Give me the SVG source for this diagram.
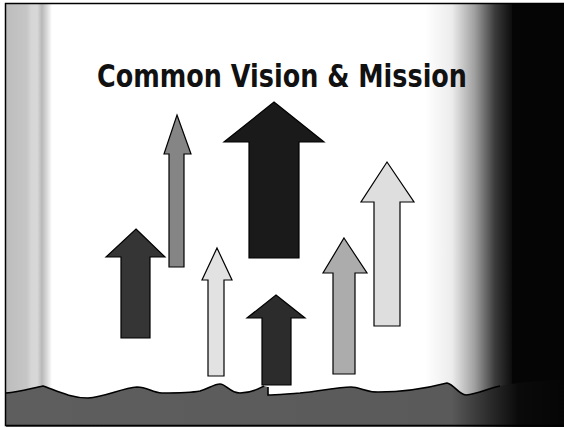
<svg xmlns="http://www.w3.org/2000/svg" width="564" height="427" viewBox="0 0 564 427">
  <defs>
    <linearGradient id="leftCurtain" x1="6" y1="0" x2="52" y2="0" gradientUnits="userSpaceOnUse">
      <stop offset="0" stop-color="#bdbdbd"/>
      <stop offset="0.45" stop-color="#c6c6c6"/>
      <stop offset="0.55" stop-color="#d6d6d6"/>
      <stop offset="0.68" stop-color="#d8d8d8"/>
      <stop offset="0.78" stop-color="#b8b8b8"/>
      <stop offset="0.9" stop-color="#dcdcdc"/>
      <stop offset="1" stop-color="#ffffff"/>
    </linearGradient>
    <linearGradient id="rightShade" x1="425" y1="0" x2="515" y2="0" gradientUnits="userSpaceOnUse">
      <stop offset="0" stop-color="#ffffff"/>
      <stop offset="0.3" stop-color="#ececec"/>
      <stop offset="0.55" stop-color="#a0a0a0"/>
      <stop offset="0.78" stop-color="#3a3a3a"/>
      <stop offset="1" stop-color="#050505"/>
    </linearGradient>
    <linearGradient id="groundShade" x1="0" y1="0" x2="564" y2="0" gradientUnits="userSpaceOnUse">
      <stop offset="0" stop-color="#5e5e5e"/>
      <stop offset="0.8" stop-color="#5a5a5a"/>
      <stop offset="0.87" stop-color="#2a2a2a"/>
      <stop offset="0.92" stop-color="#0a0a0a"/>
      <stop offset="1" stop-color="#050505"/>
    </linearGradient>
  </defs>
  <style>
    .arrow { stroke: #000; stroke-width: 1.2; stroke-linejoin: miter; }
    .title { font-family: "DejaVu Sans", Verdana, sans-serif; font-weight: bold; font-size: 32px; fill: #111; }
  </style>

  <!-- background -->
  <rect x="0" y="0" width="564" height="427" fill="#ffffff"/>
  <rect x="6" y="3" width="46" height="424" fill="url(#leftCurtain)"/>
  <rect x="425" y="3" width="139" height="424" fill="url(#rightShade)"/>
  <rect x="512" y="3" width="52" height="424" fill="#050505"/>

  <!-- ground -->
  <path d="M6,393 C20,392 32,388 43,386 C55,390 70,398 88,398 C105,397 122,388 137,387 C148,387 152,393 162,393 C175,393 195,392 200,391 C208,389 214,384 220,384 C226,384 230,393 240,393 C252,393 258,389 264,386 L268,387 L268,395 C275,395 285,394 300,393 C320,391 338,387 351,387 C360,387 365,392 378,392 C395,392 420,390 447,383 C455,385 458,394 466,395 C478,394 486,389 500,386 C520,382 545,380 564,380 L564,427 L6,427 Z" fill="url(#groundShade)"/>
  <path d="M6,393 C20,392 32,388 43,386 C55,390 70,398 88,398 C105,397 122,388 137,387 C148,387 152,393 162,393 C175,393 195,392 200,391 C208,389 214,384 220,384 C226,384 230,393 240,393 C252,393 258,389 264,386 M268,387 L268,395 C275,395 285,394 300,393 C320,391 338,387 351,387 C360,387 365,392 378,392 C395,392 420,390 447,383 C455,385 458,394 466,395 C478,394 486,389 500,386" fill="none" stroke="#000" stroke-width="1.6"/>

  <!-- frame -->
  <rect x="5.5" y="3.5" width="570" height="422" fill="none" stroke="#000" stroke-width="1.5"/>

  <!-- title -->
  <text class="title" x="97" y="87" textLength="370" lengthAdjust="spacingAndGlyphs">Common Vision &amp; Mission</text>

  <!-- arrows -->
  <g id="arrowA">
    <polygon class="arrow" fill="#353535" points="136,229 165,257 150,257 150,338 121,338 121,257 106,257"/>
  </g>
  <g id="arrowB">
    <polygon class="arrow" fill="#858585" points="177,115 191,154 184,154 184,267 169,267 169,154 164,154"/>
  </g>
  <g id="arrowC">
    <polygon class="arrow" fill="#1a1a1a" points="274,102 324,142 299,142 299,258 249,258 249,142 224,142"/>
  </g>
  <g id="arrowD">
    <polygon class="arrow" fill="#e2e2e2" points="217,248 232,280 224,280 224,376 208,376 208,280 202,280"/>
  </g>
  <g id="arrowE">
    <polygon class="arrow" fill="#2c2c2c" points="276,295 305,318 291,318 291,385 262,385 262,318 247,318"/>
  </g>
  <g id="arrowF">
    <polygon class="arrow" fill="#acacac" points="344,238 367,273 355,273 355,374 333,374 333,273 323,273"/>
  </g>
  <g id="arrowG">
    <polygon class="arrow" fill="#dedede" points="387,162 414,202 400,202 400,326 374,326 374,202 361,202"/>
  </g>
</svg>
